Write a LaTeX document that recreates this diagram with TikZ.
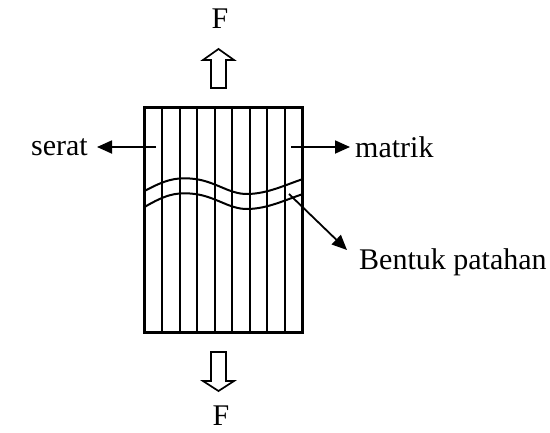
\documentclass[tikz,border=0pt]{standalone}
\usepackage{fontspec}
\setmainfont{Liberation Serif}
\usetikzlibrary{arrows.meta}
\begin{document}
\begin{tikzpicture}[x=1pt,y=-1pt,
  lbl/.style={inner sep=0pt,font=\fontsize{30}{34}\selectfont},
  fiber/.style={line width=2pt},
  wave/.style={line width=2pt},
  arr/.style={line width=1.8pt,-{Triangle[length=15pt,width=13pt]}},
  hollow/.style={line width=1.7pt,line join=miter}]
\useasboundingbox[fill=white] (0,0) rectangle (550,432);
% fibres
\foreach \k in {1,...,8} {
  \draw[fiber] ({144.5+17.5*\k},107) -- ({144.5+17.5*\k},332);
}
% fracture
\draw[wave] (144.5,191) .. controls (165,180) and (175,177.5) .. (190,178.5)
  .. controls (215,180) and (228,194.5) .. (248,194)
  .. controls (268,193.5) and (285,185) .. (303,179);
\draw[wave] (144.5,207) .. controls (165,195) and (175,192.5) .. (190,193.5)
  .. controls (215,195) and (228,209.5) .. (248,209)
  .. controls (268,208.5) and (285,200) .. (303,194);
% box
\node[draw,line width=3pt,minimum width=157.5pt,minimum height=225pt,inner sep=0pt] (box) at (223.25,219.5) {};
% load arrows
\draw[hollow] (211,88) -- (211,60) -- (203,60) -- (218.5,49) -- (234,60) -- (226,60) -- (226,88) -- cycle;
\draw[hollow] (211,352) -- (211,381) -- (203,381) -- (218.5,391) -- (234,381) -- (226,381) -- (226,352) -- cycle;
\node[lbl] (ftop) at (220,19) {F};
\node[lbl] (fbot) at (221,416) {F};
% labels
\node[lbl,anchor=east] (serat) at (88,147) {serat};
\node[lbl,anchor=west] (matrik) at (355,147) {matrik};
\node[lbl,anchor=west] (bentuk) at (359,262) {Bentuk patahan};
\coordinate (sa) at (156,147);
\coordinate (sb) at (97,147);
\coordinate (ma) at (291,147);
\coordinate (mb) at (350,147);
\coordinate (ba) at (289,194);
\coordinate (bb) at (347,250);
\draw[arr] (sa) -- (sb);
\draw[arr] (ma) -- (mb);
\draw[arr] (ba) -- (bb);
\end{tikzpicture}
\end{document}
